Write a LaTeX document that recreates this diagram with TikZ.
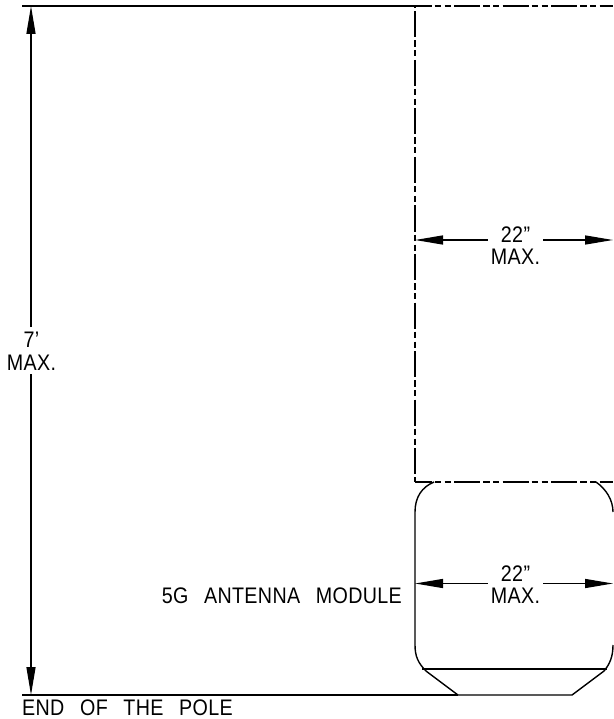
\documentclass[tikz,border=0pt]{standalone}
\usepackage{fontspec}
\setmainfont{Liberation Sans}[WordSpace=2.7,FakeStretch=0.875,LetterSpace=1.5]
\usetikzlibrary{arrows.meta}
\tikzset{
  x=1pt,y=-1pt,
  solidline/.style={line width=1.4pt,line cap=butt,line join=round},
  phantomline/.style={solidline,dash pattern=on 26pt off 3pt on 6.5pt off 3.5pt on 6pt off 3.5pt},
  dimline/.style={line width=1.3pt,-{Triangle[length=28pt,width=9pt]}},
  dimtext/.style={inner sep=0pt,align=center,text width=55pt,font=\fontsize{22.5}{22.5}\selectfont},
  dimtextb/.style={dimtext,text width=49pt},
  lbl/.style={inner sep=0pt,font=\fontsize{22.5}{22.5}\selectfont},
}
\begin{document}
\begin{tikzpicture}
\useasboundingbox (0,0) rectangle (613,719);
\fill[white] (0,0) rectangle (613,719);
% reference points
\coordinate (TL) at (22,6);
\coordinate (TC) at (415,6);
\coordinate (TR) at (613,6);
\coordinate (BC) at (415,482);
\coordinate (BR) at (613,482);
\coordinate (PL) at (22,695);
\coordinate (PR) at (458,695);
\coordinate (VT) at (31,6);
\coordinate (VB) at (31,695);
\coordinate (A1) at (415,240);
\coordinate (A2) at (613,240);
\coordinate (B1) at (415,583.5);
\coordinate (B2) at (613,583.5);
% frame lines
\draw[solidline] (TL) -- (TC);
\draw[phantomline,dash phase=9.5pt] (TC) -- (TR);
\draw[solidline] (BC) -- (432,482);
\draw[phantomline,dash phase=9.5pt] (BC) -- (BR);
\draw[phantomline,dash phase=43pt] (TC) -- (BC);
\draw[solidline] (PL) -- (PR);
% module
\draw[solidline] (434,482) .. controls (422,487) and (415,497) .. (415,512)
  -- (415,645) .. controls (415,656) and (418,663) .. (426,671)
  -- (458,695) -- (572,695) -- (604,671)
  .. controls (610,664) and (613,656) .. (613,645);
\draw[solidline] (613,512) .. controls (613,500) and (606,489) .. (596,482);
\draw[solidline] (422,669) -- (607,669);
% labels
\node[dimtextb] (seven) at (31.5,351.5) {7’\\MAX.};
\node[dimtext] (upper) at (515.5,245.5) {22”\\MAX.};
\node[dimtext] (lower) at (515.5,584.5) {22”\\MAX.};
\node[lbl,anchor=base east] (mod) at (402,603) {5G ANTENNA MODULE};
\node[lbl,anchor=base west] (pole) at (22,715) {END OF THE POLE};
% dimensions
\draw[dimline] (31,327) -- (VT);
\draw[dimline] (31,374) -- (VB);
\draw[dimline] (upper.west |- A1) -- (A1);
\draw[dimline] (upper.east |- A2) -- (A2);
\draw[dimline] (lower.west |- B1) -- (B1);
\draw[dimline] (lower.east |- B2) -- (B2);
\end{tikzpicture}
\end{document}
